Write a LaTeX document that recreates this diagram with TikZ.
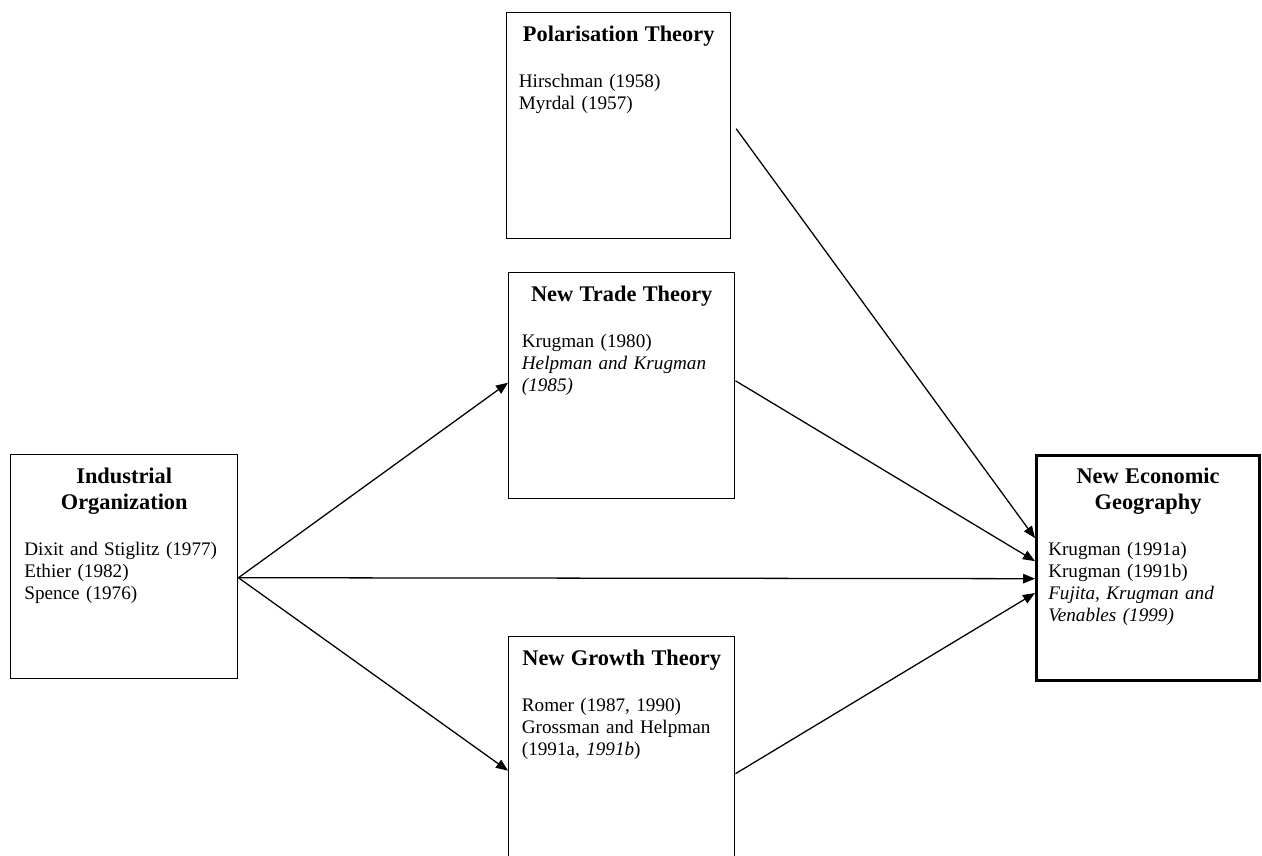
\documentclass[tikz,border=0pt]{standalone}
\usepackage{fontspec}
\setmainfont{Liberation Serif}
\usetikzlibrary{arrows.meta}

\tikzset{
  box/.style={draw, line width=0.9pt, anchor=north west, inner sep=0pt},
  boxtext/.style={anchor=north, text width=125pt, align=left, inner xsep=0pt, inner ysep=8.5pt,
    font=\fontsize{12}{13.8}\selectfont, execute at begin node=\setlength{\parindent}{0pt}},
  link/.style={line width=0.8pt, -{Triangle[length=7.5pt,width=6pt]}}
}
\newcommand{\boxhead}[1]{{\fontsize{14}{16.5}\selectfont\bfseries\centering #1\par}\vspace{15pt}}

\begin{document}
\begin{tikzpicture}[x=0.626pt,y=-0.626pt]
\useasboundingbox (0,0) rectangle (1262,856);
\clip (0,0) rectangle (1262,856);

% boxes
\node[box, minimum width=140.2pt, minimum height=141.5pt] (pol) at (506,12) {};
\node[box, minimum width=141.5pt, minimum height=141.5pt] (ntt) at (508,272) {};
\node[box, minimum width=141.5pt, minimum height=141.5pt] (ngt) at (508,636) {};
\node[box, minimum width=142.1pt, minimum height=140.2pt] (io) at (10,454) {};
\node[box, line width=2pt, minimum width=139.6pt, minimum height=140.9pt] (neg) at (1035,454) {};

% texts
\node[boxtext] (pol-text) at (pol.north) {\boxhead{Polarisation Theory}Hirschman (1958)\\Myrdal (1957)};
\node[boxtext] (ntt-text) at (ntt.north) {\boxhead{New Trade Theory}Krugman (1980)\\\textit{Helpman and Krugman}\\\textit{(1985)}};
\node[boxtext] (ngt-text) at (ngt.north) {\boxhead{New Growth Theory}Romer (1987, 1990)\\Grossman and Helpman\\(1991a, \textit{1991b})};
\node[boxtext] (io-text) at (io.north) {\boxhead{Industrial\\Organization}Dixit and Stiglitz (1977)\\Ethier (1982)\\Spence (1976)};
\node[boxtext] (neg-text) at (neg.north) {\boxhead{New Economic\\Geography}Krugman (1991a)\\Krugman (1991b)\\\textit{Fujita, Krugman and}\\\textit{Venables (1999)}};

% arrows
\draw[link] ([yshift=-6.9pt]io.east) -- ([yshift=1.9pt]ntt.west);
\draw[link] ([yshift=-6.9pt]io.east) -- ([yshift=-6.6pt]neg.west);
\draw[link] ([yshift=-6.9pt]io.east) -- ([yshift=-13.1pt]ngt.west);
\draw[link] ([xshift=3pt,yshift=-1.9pt]pol.east) -- ([yshift=18.8pt]neg.west);
\draw[link] ([yshift=3.1pt]ntt.east) -- ([yshift=4.4pt]neg.west);
\draw[link] ([yshift=-15pt]ngt.east) -- ([yshift=-15.6pt]neg.west);
\end{tikzpicture}
\end{document}
